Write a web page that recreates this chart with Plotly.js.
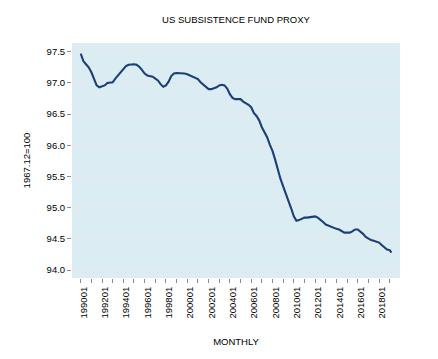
<!DOCTYPE html>
<html>
<head>
<meta charset="utf-8">
<script src="https://cdn.plot.ly/plotly-3.0.1.min.js"></script>
<style>html,body{margin:0;padding:0;background:#fff;}#chart{width:438px;height:359px;}</style>
</head>
<body>
<div id="chart"></div>
<script>
// Quarterly readings (Jan, Apr, Jul, Oct) 1990-2018, then 2019-01 and 2019-03
const years = [];
for (let y = 1990; y <= 2018; y++) years.push(y);
const quarterMonths = ["01", "04", "07", "10"];
const extraPeriods = ["2019-01", "2019-03"];

const proxyValues = [
  97.47, 97.35, 97.30, 97.25,   // 1990
  97.17, 97.07, 96.96, 96.93,   // 1991
  96.94, 96.96, 97.00, 97.00,   // 1992
  97.01, 97.07, 97.12, 97.18,   // 1993
  97.23, 97.27, 97.29, 97.30,   // 1994
  97.30, 97.29, 97.26, 97.21,   // 1995
  97.15, 97.12, 97.11, 97.10,   // 1996
  97.07, 97.04, 96.98, 96.94,   // 1997
  96.96, 97.02, 97.11, 97.15,   // 1998
  97.16, 97.16, 97.15, 97.15,   // 1999
  97.14, 97.12, 97.09, 97.08,   // 2000
  97.06, 97.01, 96.97, 96.94,   // 2001
  96.90, 96.90, 96.91, 96.93,   // 2002
  96.96, 96.97, 96.96, 96.91,   // 2003
  96.82, 96.76, 96.74, 96.74,   // 2004
  96.74, 96.70, 96.68, 96.65,   // 2005
  96.61, 96.52, 96.47, 96.40,   // 2006
  96.29, 96.22, 96.13, 96.01,   // 2007
  95.91, 95.77, 95.61, 95.46,   // 2008
  95.34, 95.23, 95.11, 94.99,   // 2009
  94.86, 94.79, 94.80, 94.82,   // 2010
  94.84, 94.84, 94.85, 94.86,   // 2011
  94.86, 94.84, 94.81, 94.77,   // 2012
  94.73, 94.71, 94.70, 94.68,   // 2013
  94.66, 94.65, 94.63, 94.60,   // 2014
  94.60, 94.60, 94.62, 94.65,   // 2015
  94.65, 94.62, 94.58, 94.53,   // 2016
  94.50, 94.48, 94.47, 94.45,   // 2017
  94.44, 94.40, 94.36, 94.33,   // 2018
  94.32, 94.28                  // 2019
];

const periods = [];
years.forEach(y => quarterMonths.forEach(m => periods.push(y + "-" + m)));
extraPeriods.forEach(p => periods.push(p));

const yTickVals = [94.0, 94.5, 95.0, 95.5, 96.0, 96.5, 97.0, 97.5];
const yTickText = ["94.0", "94.5", "95.0", "95.5", "96.0", "96.5", "97.0", "97.5"];

const FONT = "'Liberation Sans', Arial, sans-serif";
const FS = 9.5;

const trace = {
  x: periods,
  y: proxyValues,
  type: "scatter",
  mode: "lines",
  line: { color: "#1d3f78", width: 2.1 },
  hoverinfo: "x+y"
};

const layout = {
  width: 438,
  height: 359,
  margin: { l: 72, r: 38, t: 43, b: 81 },
  paper_bgcolor: "#ffffff",
  plot_bgcolor: "#dbedf3",
  showlegend: false,
  font: { family: FONT, size: FS, color: "#000000" },
  title: {
    text: "US SUBSISTENCE FUND PROXY",
    font: { family: FONT, size: FS, color: "#000000" },
    xref: "paper", x: 0.5, xanchor: "center",
    yref: "container", y: 1 - 20 / 359, yanchor: "middle"
  },
  xaxis: {
    type: "date",
    range: ["1989-03-08", "2019-12-20"],
    tick0: "1990-01-01",
    dtick: "M24",
    tickformat: "%Y%m",
    tickangle: -90,
    ticks: "outside",
    ticklen: 4,
    tickcolor: "#8c8c8c",
    ticklabelshift: 3,
    minor: { dtick: "M12", tick0: "1990-01-01", ticks: "outside", ticklen: 4, tickcolor: "#8c8c8c", showgrid: false },
    showgrid: false,
    showline: false,
    zeroline: false,
    tickfont: { family: FONT, size: FS, color: "#000000" },
    title: { text: "MONTHLY", font: { family: FONT, size: FS, color: "#000000" }, standoff: 20 }
  },
  yaxis: {
    range: [93.872, 97.64],
    tickvals: yTickVals,
    ticktext: yTickText,
    ticks: "outside",
    ticklen: 4,
    tickcolor: "#8c8c8c",
    showgrid: true,
    gridcolor: "#e6e6e6",
    gridwidth: 1,
    showline: false,
    zeroline: false,
    tickfont: { family: FONT, size: FS, color: "#000000" },
    title: { text: "1967.12=100", font: { family: FONT, size: FS, color: "#000000" }, standoff: 14 }
  }
};

Plotly.newPlot("chart", [trace], layout, { displayModeBar: false, staticPlot: true });
</script>
</body>
</html>
